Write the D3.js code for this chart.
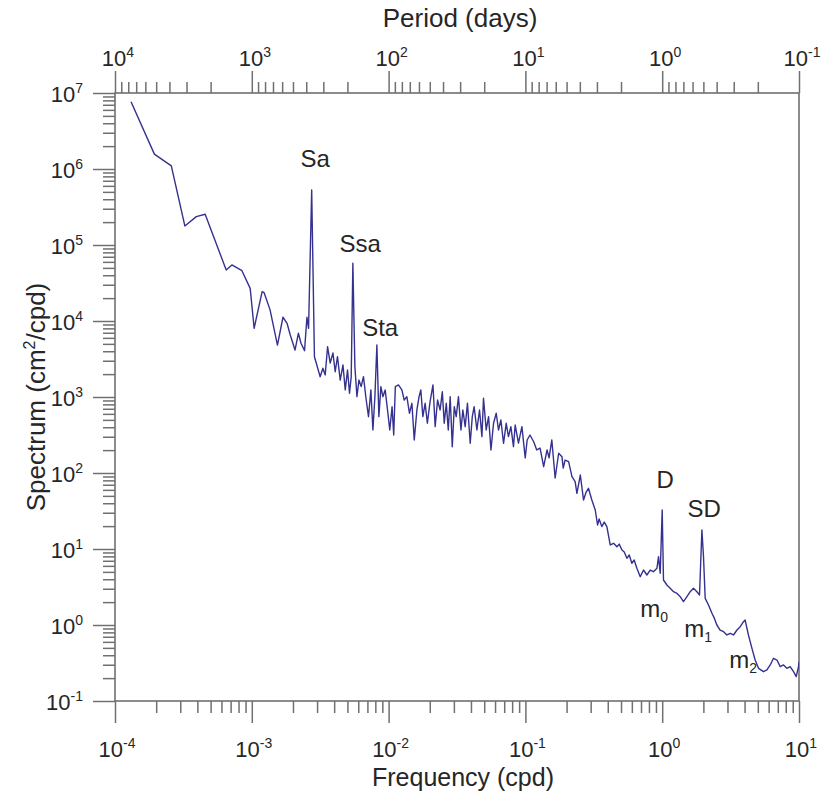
<!DOCTYPE html>
<html>
<head>
<meta charset="utf-8">
<script src="https://cdn.jsdelivr.net/npm/d3@7"></script>
<style>
  body { margin: 0; background: #fff; }
  svg { font-family: "Liberation Sans", Arial, sans-serif; }
</style>
</head>
<body>
<svg id="chart" width="822" height="793"></svg>
<script>
// Spectrum (frequency in cpd, spectrum in cm^2/cpd)
const freq = [
  1.31e-4, 1.94e-4, 2.58e-4, 3.24e-4, 3.93e-4, 4.56e-4, 6.50e-4, 7.15e-4, 8.47e-4, 9.73e-4,
  1.04e-3, 1.19e-3, 1.23e-3, 1.36e-3, 1.54e-3, 1.69e-3, 1.81e-3, 1.91e-3, 2.07e-3, 2.19e-3,
  2.29e-3, 2.43e-3, 2.53e-3, 2.60e-3, 2.74e-3, 2.87e-3,
  3.16e-3, 3.31e-3, 3.44e-3, 3.58e-3, 3.74e-3, 3.92e-3, 4.07e-3, 4.23e-3, 4.43e-3, 4.64e-3,
  4.82e-3, 5.01e-3, 5.18e-3, 5.33e-3, 5.48e-3, 5.67e-3, 5.87e-3, 6.07e-3, 6.30e-3, 6.55e-3,
  6.86e-3, 7.13e-3, 7.42e-3, 7.68e-3, 7.94e-3, 8.21e-3, 8.49e-3, 8.78e-3, 9.08e-3, 9.44e-3,
  9.82e-3, 1.02e-2, 1.06e-2, 1.09e-2, 1.12e-2, 1.18e-2, 1.25e-2, 1.30e-2, 1.36e-2, 1.42e-2,
  1.48e-2, 1.54e-2, 1.61e-2, 1.67e-2, 1.72e-2, 1.78e-2, 1.85e-2, 1.92e-2, 2.01e-2, 2.11e-2,
  2.19e-2, 2.28e-2, 2.38e-2, 2.47e-2, 2.55e-2, 2.64e-2, 2.73e-2, 2.82e-2, 2.92e-2, 3.02e-2,
  3.12e-2, 3.24e-2, 3.38e-2, 3.49e-2, 3.63e-2, 3.77e-2, 3.95e-2, 4.09e-2, 4.22e-2, 4.42e-2,
  4.62e-2, 4.81e-2, 4.94e-2, 5.17e-2, 5.38e-2, 5.60e-2, 5.85e-2, 6.12e-2, 6.36e-2, 6.62e-2,
  6.92e-2, 7.24e-2, 7.52e-2, 7.83e-2, 8.18e-2, 8.42e-2, 8.90e-2, 9.43e-2, 9.97e-2,
  0.103, 0.108, 0.115, 0.121, 0.128, 0.136, 0.144, 0.149, 0.156, 0.165,
  0.175, 0.185, 0.189, 0.195, 0.207, 0.219, 0.231, 0.238, 0.252, 0.266,
  0.278, 0.289, 0.306, 0.324, 0.337, 0.346, 0.362, 0.377, 0.394, 0.417,
  0.441, 0.467, 0.485, 0.508, 0.528, 0.552, 0.574, 0.600, 0.624, 0.653,
  0.691, 0.730, 0.773, 0.817, 0.864, 0.915, 0.940, 0.967, 1.00,
  1.022, 1.082, 1.144, 1.21, 1.28, 1.354, 1.431, 1.516, 1.602, 1.694,
  1.793, 1.874, 1.951, 2.004, 2.062, 2.18, 2.31, 2.40, 2.51, 2.65,
  2.81, 2.97, 3.14, 3.32, 3.52, 3.72, 3.93, 4.04, 4.27, 4.53,
  4.78, 5.06, 5.50, 5.83, 6.16, 6.51, 6.90, 7.29, 7.70, 8.16,
  8.62, 9.12, 9.54, 9.92, 10.0
];
const spectrum = [
  7.69e6, 1.57e6, 1.10e6, 1.78e5, 2.36e5, 2.54e5, 4.69e4, 5.46e4, 4.59e4, 2.69e4,
  8.02e3, 2.43e4, 2.36e4, 1.40e4, 4.83e3, 1.12e4, 9.33e3, 6.54e3, 4.15e3, 6.89e3,
  5.09e3, 4.07e3, 1.12e4, 8.02e3, 5.29e5, 3.39e3,
  1.85e3, 2.39e3, 1.95e3, 4.59e3, 2.80e3, 3.79e3, 2.15e3, 3.39e3, 1.67e3, 2.64e3,
  1.24e3, 2.27e3, 1.12e3, 1.85e3, 5.74e4, 2.50e3, 1.01e3, 1.67e3, 1.37e3, 1.85e3,
  913, 551, 1.24e3, 368, 1.01e3, 4.83e3, 551, 1.37e3, 1.01e3, 1.24e3,
  675, 368, 745, 316, 1.37e3, 1.44e3, 1.24e3, 913, 1.01e3, 611,
  826, 272, 675, 1.01e3, 1.24e3, 551, 826, 451, 867, 1.44e3,
  407, 913, 675, 1.17e3, 451, 826, 368, 1.01e3, 222, 745,
  551, 1.01e3, 368, 675, 407, 826, 246, 551, 745, 368,
  675, 301, 962, 368, 551, 201, 451, 611, 368, 498,
  246, 451, 301, 407, 222, 428, 248, 407, 158,
  272, 316, 258, 201, 213, 121, 201, 158, 272, 86.0,
  182, 164, 116, 148, 141, 89.4, 76.9, 54.1, 94.1, 44.2,
  56.2, 62.9, 44.2, 32.6, 20.7, 24.8, 19.7, 22.6, 19.7, 11.3,
  11.9, 10.7, 11.6, 9.70, 9.13, 7.54, 8.34, 6.49, 7.17, 5.57,
  4.32, 5.29, 4.55, 5.29, 5.03, 5.57, 7.93, 4.79, 32.6,
  3.91, 3.36, 3.04, 2.74, 2.61, 2.36, 2.03, 2.36, 2.74, 3.04,
  2.74, 2.48, 17.8, 7.93, 2.24, 1.83, 1.43, 1.24, 1.00, 0.859,
  0.816, 0.739, 0.778, 0.739, 0.859, 0.950, 1.105, 1.16, 0.739, 0.493,
  0.346, 0.269, 0.243, 0.256, 0.298, 0.365, 0.346, 0.283, 0.298, 0.269,
  0.283, 0.243, 0.209, 0.283, 0.329
];

// Tidal / seasonal annotations, placed in data coordinates
const peakNames = ["Sa", "Ssa", "Sta", "D", "SD"];
const peakFreq  = [2.91e-3, 6.20e-3, 8.68e-3, 1.05, 2.03];
const peakSpec  = [1.06e6, 8.09e4, 6.35e3, 63.5, 26.4];

const modeSub  = ["0", "1", "2"];
const modeFreq = [0.691, 1.45, 3.09];
const modeSpec = [1.27, 0.695, 0.272];

const freqDecades   = [1e-4, 1e-3, 1e-2, 1e-1, 1e0, 1e1];
const periodDecades = [1e4, 1e3, 1e2, 1e1, 1e0, 1e-1];
const specDecades   = [1e-1, 1e0, 1e1, 1e2, 1e3, 1e4, 1e5, 1e6, 1e7];

const svg = d3.select("#chart");
const margin = {left: 115, right: 23, top: 93, bottom: 92};
const W = 822, H = 793;
const x0 = margin.left, x1 = W - margin.right, y0 = margin.top, y1 = H - margin.bottom;

const axisColor = "#707070";
const textColor = "#262626";

const x = d3.scaleLog().domain([1e-4, 1e1]).range([x0, x1]);
const xp = d3.scaleLog().domain([1e4, 1e-1]).range([x0, x1]);
const y = d3.scaleLog().domain([1e-1, 1e7]).range([y1, y0]);

// minor ticks: 2..9 within each decade
function minors(decades) {
  let lo = d3.min(decades), hi = d3.max(decades), out = [];
  for (let d = lo; d < hi * 0.99; d *= 10)
    for (let k = 2; k <= 9; k++) out.push(d * k);
  return out;
}

function styleAxis(g) {
  g.select(".domain").remove();
  g.selectAll("line").attr("stroke", axisColor).attr("stroke-width", 1.5);
  g.selectAll("text").remove();
}

// frame
svg.append("rect")
  .attr("x", x0).attr("y", y0)
  .attr("width", x1 - x0).attr("height", y1 - y0)
  .attr("fill", "none").attr("stroke", axisColor).attr("stroke-width", 1.6);

// bottom axis
svg.append("g").attr("transform", `translate(0,${y1})`)
  .call(d3.axisBottom(x).tickValues(minors(freqDecades)).tickSize(12)).call(styleAxis);
svg.append("g").attr("transform", `translate(0,${y1})`)
  .call(d3.axisBottom(x).tickValues(freqDecades).tickSize(22)).call(styleAxis);

// top axis (period)
svg.append("g").attr("transform", `translate(0,${y0})`)
  .call(d3.axisTop(xp).tickValues(minors(periodDecades)).tickSize(11)).call(styleAxis);
svg.append("g").attr("transform", `translate(0,${y0})`)
  .call(d3.axisTop(xp).tickValues(periodDecades).tickSize(22)).call(styleAxis);

// left axis
svg.append("g").attr("transform", `translate(${x0},0)`)
  .call(d3.axisLeft(y).tickValues(minors(specDecades)).tickSize(12)).call(styleAxis);
svg.append("g").attr("transform", `translate(${x0},0)`)
  .call(d3.axisLeft(y).tickValues(specDecades).tickSize(22)).call(styleAxis);

// power-of-ten labels
function powLabel(sel, v) {
  let e = Math.round(Math.log10(v));
  sel.append("tspan").text("10");
  sel.append("tspan").attr("dy", -9).attr("font-size", 14).text(e);
}

svg.selectAll(".xlab").data(freqDecades).join("text")
  .attr("x", d => x(d) + 2).attr("y", y1 + 56)
  .attr("text-anchor", "middle").attr("font-size", 22).attr("fill", textColor)
  .each(function(d) { powLabel(d3.select(this), d); });

svg.selectAll(".plab").data(periodDecades).join("text")
  .attr("x", d => xp(d) + 3).attr("y", y0 - 27)
  .attr("text-anchor", "middle").attr("font-size", 22).attr("fill", textColor)
  .each(function(d) { powLabel(d3.select(this), d); });

svg.selectAll(".ylab").data(specDecades).join("text")
  .attr("x", x0 - 32).attr("y", d => y(d) + 9)
  .attr("text-anchor", "end").attr("font-size", 22).attr("fill", textColor)
  .each(function(d) { powLabel(d3.select(this), d); });

// axis titles
svg.append("text").attr("x", (x0 + x1) / 2 + 6).attr("y", 786)
  .attr("text-anchor", "middle").attr("font-size", 25).attr("fill", textColor)
  .text("Frequency (cpd)");
svg.append("text").attr("x", (x0 + x1) / 2 + 3).attr("y", 27)
  .attr("text-anchor", "middle").attr("font-size", 26).attr("fill", textColor)
  .text("Period (days)");
const yt = svg.append("text")
  .attr("transform", `translate(45,${(y0 + y1) / 2}) rotate(-90)`)
  .attr("text-anchor", "middle").attr("font-size", 26).attr("fill", textColor);
yt.append("tspan").text("Spectrum (cm");
yt.append("tspan").attr("dy", -10).attr("font-size", 16).text("2");
yt.append("tspan").attr("dy", 10).text("/cpd)");

// spectrum line
svg.append("defs").append("clipPath").attr("id", "plotclip")
  .append("rect").attr("x", x0).attr("y", y0).attr("width", x1 - x0).attr("height", y1 - y0);

const line = d3.line().x((d, i) => x(freq[i])).y((d, i) => y(spectrum[i]));
svg.append("path")
  .attr("clip-path", "url(#plotclip)")
  .attr("d", line(freq))
  .attr("fill", "none").attr("stroke", "#35318f").attr("stroke-width", 1.4)
  .attr("stroke-linejoin", "round");

// annotations
svg.selectAll(".peak").data(peakNames).join("text")
  .attr("x", (d, i) => x(peakFreq[i])).attr("y", (d, i) => y(peakSpec[i]))
  .attr("text-anchor", "middle").attr("font-size", 24).attr("fill", textColor)
  .text(d => d);

svg.selectAll(".mode").data(modeSub).join("text")
  .attr("x", (d, i) => x(modeFreq[i])).attr("y", (d, i) => y(modeSpec[i]))
  .attr("font-size", 24).attr("fill", textColor)
  .each(function(d) {
    let t = d3.select(this);
    t.append("tspan").text("m");
    t.append("tspan").attr("dy", 5).attr("font-size", 14).text(d);
  });
</script>
</body>
</html>
